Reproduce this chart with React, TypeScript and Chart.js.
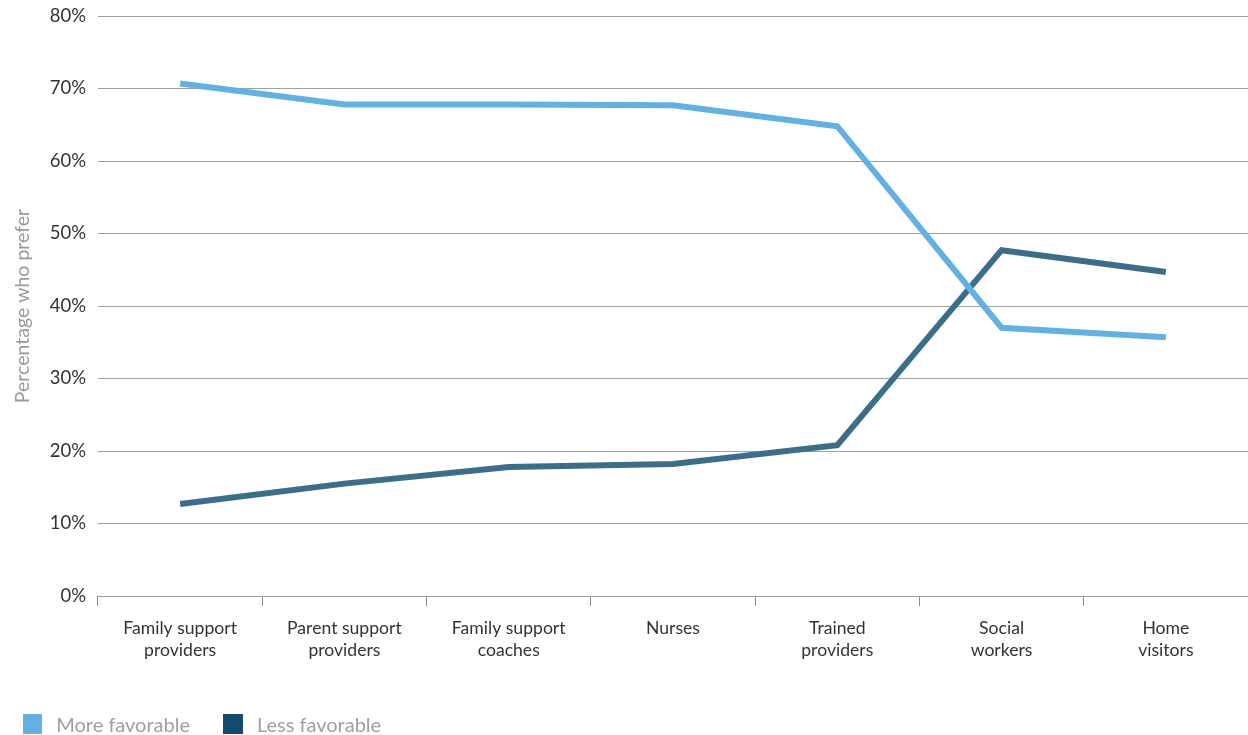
import React, { useEffect, useRef } from "react";
import { Chart, registerables } from "chart.js";

Chart.register(...registerables);

const categories: string[][] = [
  ["Family support", "providers"],
  ["Parent support", "providers"],
  ["Family support", "coaches"],
  ["Nurses"],
  ["Trained", "providers"],
  ["Social", "workers"],
  ["Home", "visitors"],
];
const moreFavorable = [70.7, 67.8, 67.8, 67.7, 64.8, 37.0, 35.7];
const lessFavorable = [12.7, 15.5, 17.8, 18.2, 20.8, 47.7, 44.7];
const yTicks = [0, 10, 20, 30, 40, 50, 60, 70, 80];
const seriesNames = ["More favorable", "Less favorable"];
const lineColors = ["#64b1e1", "#3c6e8a"];
const legendColors = ["#64b1e1", "#134b6d"];

const FONT = "Lato, 'Open Sans', sans-serif";

export default function App() {
  const ref = useRef<HTMLCanvasElement>(null);
  useEffect(() => {
    document.body.style.margin = "0";
    const ctx = ref.current!;
    const chart = new Chart(ctx, {
      type: "line",
      data: {
        labels: categories,
        datasets: [
          {
            label: seriesNames[0],
            data: moreFavorable,
            borderColor: lineColors[0],
            backgroundColor: legendColors[0],
            borderWidth: 6,
            pointRadius: 0,
            tension: 0,
          },
          {
            label: seriesNames[1],
            data: lessFavorable,
            borderColor: lineColors[1],
            backgroundColor: legendColors[1],
            borderWidth: 6,
            pointRadius: 0,
            tension: 0,
          },
        ],
      },
      options: {
        animation: false,
        responsive: false,
        layout: { padding: { left: 0, right: 0, top: 16, bottom: 0 } },
        plugins: {
          tooltip: { enabled: false },
          legend: { display: false },
        },
        scales: {
          x: {
            offset: true,
            grid: {
              display: true,
              drawOnChartArea: false,
              offset: true,
              tickLength: 10,
              color: "#8a8a8a",
            },
            border: { display: false },
            ticks: {
              color: "#333",
              font: { family: FONT, size: 17.6, lineHeight: 1.25 },
              padding: 11,
              maxRotation: 0,
              autoSkip: false,
            },
            afterFit: (s: any) => {
              s.height = 139;
              s.paddingLeft = 0;
              s.paddingRight = 0;
            },
          },
          y: {
            min: 0,
            max: 80,
            afterBuildTicks: (s: any) => {
              s.ticks = yTicks.map((v) => ({ value: v }));
            },
            grid: { color: "#a0a0a0", drawTicks: false, lineWidth: 1 },
            border: { display: false },
            ticks: {
              color: "#333",
              font: { family: FONT, size: 18.5 },
              padding: 12,
              callback: (v: any) => v + "%",
            },
            title: {
              display: true,
              text: "Percentage who prefer",
              color: "#9a9a9a",
              font: { family: FONT, size: 19.5 },
              padding: { top: 11, bottom: 0 },
            },
            afterFit: (s: any) => {
              s.width = 98;
              s.paddingTop = 0;
              s.paddingBottom = 0;
            },
          },
        },
      },
    });
    return () => chart.destroy();
  }, []);
  return (
    <div style={{ position: "fixed", left: 0, top: 0, width: 1248, height: 735, overflow: "hidden" }}>
      <canvas ref={ref} width={1248} height={735} style={{ display: "block" }} />
      <div
        style={{
          position: "absolute",
          left: 23,
          top: 713,
          display: "flex",
          alignItems: "center",
          fontFamily: FONT,
          fontSize: 20,
          color: "#9f9f9f",
          lineHeight: "22px",
          whiteSpace: "nowrap",
        }}
      >
        {seriesNames.map((n, i) => (
          <div key={n} style={{ display: "flex", alignItems: "center", marginRight: i === 0 ? 33 : 0, width: i === 0 ? 167 : undefined }}>
            <span style={{ display: "inline-block", width: 20, height: 20, background: legendColors[i], marginRight: 14 }} />
            <span>{n}</span>
          </div>
        ))}
      </div>
    </div>
  );
}
